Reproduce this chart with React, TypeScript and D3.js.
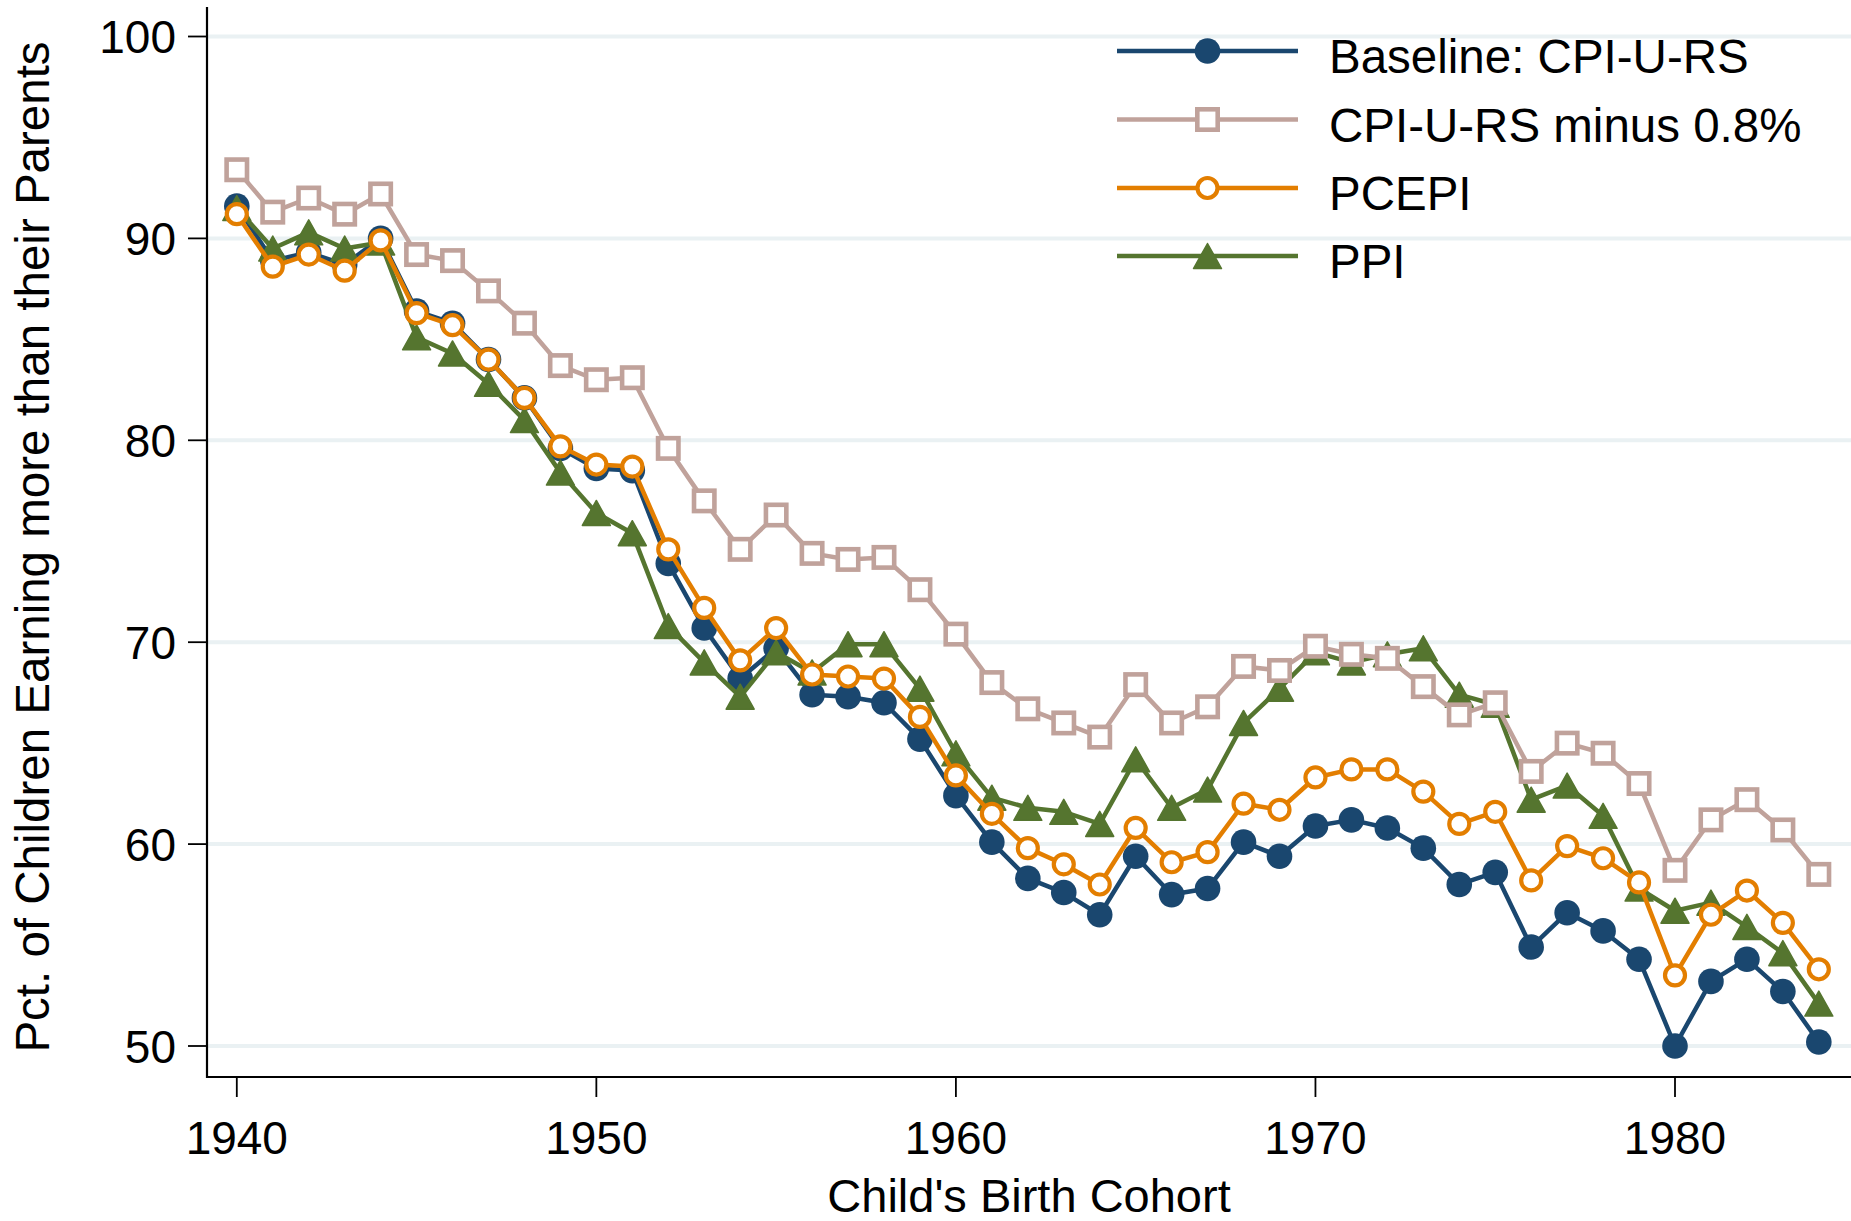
import React from "react";
import * as d3 from "d3";

const years = [1940, 1941, 1942, 1943, 1944, 1945, 1946, 1947, 1948, 1949, 1950, 1951, 1952, 1953, 1954, 1955, 1956, 1957, 1958, 1959, 1960, 1961, 1962, 1963, 1964, 1965, 1966, 1967, 1968, 1969, 1970, 1971, 1972, 1973, 1974, 1975, 1976, 1977, 1978, 1979, 1980, 1981, 1982, 1983, 1984];

const baseline = [91.6, 88.9, 89.3, 88.7, 90.0, 86.4, 85.8, 84.0, 82.1, 79.6, 78.6, 78.5, 73.9, 70.7, 68.2, 69.7, 67.4, 67.3, 67.0, 65.2, 62.4, 60.1, 58.3, 57.6, 56.5, 59.4, 57.5, 57.8, 60.1, 59.4, 60.9, 61.2, 60.8, 59.8, 58.0, 58.6, 54.9, 56.6, 55.7, 54.3, 50.0, 53.2, 54.3, 52.7, 50.2];
const cpiMinus = [93.4, 91.3, 92.0, 91.2, 92.2, 89.2, 88.9, 87.4, 85.8, 83.7, 83.0, 83.1, 79.6, 77.0, 74.6, 76.3, 74.4, 74.1, 74.2, 72.6, 70.4, 68.0, 66.7, 66.0, 65.3, 67.9, 66.0, 66.8, 68.8, 68.6, 69.8, 69.4, 69.2, 67.8, 66.4, 67.0, 63.6, 65.0, 64.5, 63.0, 58.7, 61.2, 62.2, 60.7, 58.5];
const pcepi = [91.2, 88.6, 89.2, 88.4, 89.9, 86.3, 85.7, 84.0, 82.1, 79.7, 78.8, 78.7, 74.6, 71.7, 69.1, 70.7, 68.4, 68.3, 68.2, 66.3, 63.4, 61.5, 59.8, 59.0, 58.0, 60.8, 59.1, 59.6, 62.0, 61.7, 63.3, 63.7, 63.7, 62.6, 61.0, 61.6, 58.2, 59.9, 59.3, 58.1, 53.5, 56.5, 57.7, 56.1, 53.8];
const ppi = [91.5, 89.5, 90.3, 89.5, 89.8, 85.1, 84.3, 82.8, 81.0, 78.4, 76.4, 75.4, 70.8, 69.0, 67.3, 69.5, 68.5, 69.9, 69.9, 67.7, 64.5, 62.3, 61.8, 61.6, 61.0, 64.2, 61.8, 62.7, 66.0, 67.7, 69.5, 69.0, 69.4, 69.7, 67.4, 66.9, 62.2, 62.9, 61.4, 57.8, 56.7, 57.1, 55.9, 54.6, 52.1];

const yTicks = [50, 60, 70, 80, 90, 100];
const xTicks = [1940, 1950, 1960, 1970, 1980];

const seriesNames = ["Baseline: CPI-U-RS", "CPI-U-RS minus 0.8%", "PCEPI", "PPI"];

const W = 1851;
const H = 1221;
const FONT = "'Liberation Sans', Arial, Helvetica, sans-serif";

const COLORS = {
  navy: "#1a476f",
  rose: "#c0a29b",
  orange: "#e37e00",
  green: "#55752f",
};

type MarkerKind = "circle" | "square" | "hollowCircle" | "triangle";

function Marker({ kind, x, y, color }: { kind: MarkerKind; x: number; y: number; color: string }) {
  if (kind === "circle") return <circle cx={x} cy={y} r={12.8} fill={color} />;
  if (kind === "hollowCircle")
    return <circle cx={x} cy={y} r={10} fill="white" stroke={color} strokeWidth={4.2} />;
  if (kind === "square")
    return <rect x={x - 10.2} y={y - 10.2} width={20.4} height={20.4} fill="white" stroke={color} strokeWidth={4.6} />;
  const w = 28, h = 25;
  return (
    <path
      d={`M${x},${y - h / 2}L${x + w / 2},${y + h / 2}L${x - w / 2},${y + h / 2}Z`}
      fill={color}
      stroke={color}
      strokeWidth={1.5}
      strokeLinejoin="round"
    />
  );
}

export default function App() {
  const x = d3.scaleLinear().domain([1940, 1980]).range([236.8, 1675]);
  const y = d3.scaleLinear().domain([50, 100]).range([1046, 36.5]);
  const plotLeft = 207;
  const plotRight = W;
  const plotTop = 7;
  const plotBottom = 1077;

  const line = d3
    .line<number>()
    .x((_, i) => x(years[i]))
    .y((d) => y(d));

  const series: { name: string; data: number[]; color: string; kind: MarkerKind }[] = [
    { name: seriesNames[0], data: baseline, color: COLORS.navy, kind: "circle" },
    { name: seriesNames[1], data: cpiMinus, color: COLORS.rose, kind: "square" },
    { name: seriesNames[2], data: pcepi, color: COLORS.orange, kind: "hollowCircle" },
    { name: seriesNames[3], data: ppi, color: COLORS.green, kind: "triangle" },
  ];
  // draw order: navy, green, rose, orange
  const drawOrder = [0, 3, 1, 2];

  const legendX1 = 1117;
  const legendX2 = 1298;
  const legendRows = [51, 119.5, 188, 256];

  return (
    <svg
      width={W}
      height={H}
      viewBox={`0 0 ${W} ${H}`}
      style={{ position: "absolute", left: 0, top: 0, display: "block", background: "white" }}
      fontFamily={FONT}
    >
      <rect x={0} y={0} width={W} height={H} fill="white" />
      {/* gridlines */}
      {yTicks.map((t) => (
        <line key={"g" + t} x1={plotLeft} x2={plotRight} y1={y(t)} y2={y(t)} stroke="#eaf1f3" strokeWidth={4} />
      ))}
      {/* series */}
      {drawOrder.map((si) => {
        const s = series[si];
        return (
          <g key={s.name}>
            <path d={line(s.data) || ""} fill="none" stroke={s.color} strokeWidth={4.5} strokeLinejoin="round" />
            {s.data.map((v, i) => (
              <Marker key={i} kind={s.kind} x={x(years[i])} y={y(v)} color={s.color} />
            ))}
          </g>
        );
      })}
      {/* axes */}
      <line x1={plotLeft} x2={plotLeft} y1={plotTop} y2={plotBottom + 1} stroke="black" strokeWidth={2.2} />
      <line x1={plotLeft - 1} x2={plotRight} y1={plotBottom} y2={plotBottom} stroke="black" strokeWidth={2.2} />
      {yTicks.map((t) => (
        <g key={"yt" + t}>
          <line x1={188} x2={plotLeft} y1={y(t)} y2={y(t)} stroke="black" strokeWidth={1.8} />
          <text x={176} y={y(t)} dy="0.36em" textAnchor="end" fontSize={46} fill="black">
            {t}
          </text>
        </g>
      ))}
      {xTicks.map((t) => (
        <g key={"xt" + t}>
          <line x1={x(t)} x2={x(t)} y1={plotBottom} y2={1097} stroke="black" strokeWidth={1.8} />
          <text x={x(t)} y={1154} textAnchor="middle" fontSize={46} fill="black">
            {t}
          </text>
        </g>
      ))}
      {/* axis titles */}
      <text x={(plotLeft + plotRight) / 2} y={1212} textAnchor="middle" fontSize={47} fill="black">
        Child's Birth Cohort
      </text>
      <text transform="translate(49,547) rotate(-90)" textAnchor="middle" fontSize={47.5} fill="black">
        Pct. of Children Earning more than their Parents
      </text>
      {/* legend */}
      {series.map((s, i) => (
        <g key={"lg" + i}>
          <line x1={legendX1} x2={legendX2} y1={legendRows[i]} y2={legendRows[i]} stroke={s.color} strokeWidth={4.5} />
          <Marker kind={s.kind} x={(legendX1 + legendX2) / 2} y={legendRows[i]} color={s.color} />
          <text x={1329} y={legendRows[i] + 22} fontSize={47.5} fill="black">
            {s.name}
          </text>
        </g>
      ))}
    </svg>
  );
}
